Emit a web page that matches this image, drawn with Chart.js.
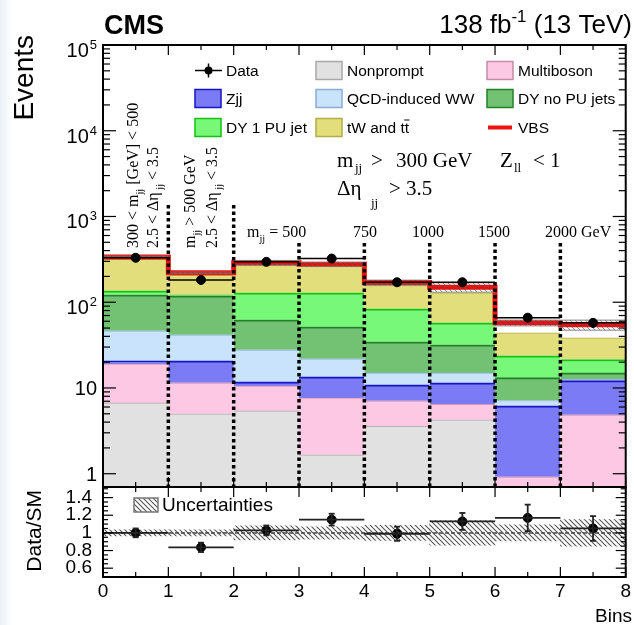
<!DOCTYPE html>
<html>
<head>
<meta charset="utf-8">
<script src="https://cdn.jsdelivr.net/npm/chart.js@4.4.1/dist/chart.umd.min.js"></script>
<style>
  html, body { margin: 0; padding: 0; }
  body { width: 634px; height: 625px; overflow: hidden; background: linear-gradient(90deg, #e9eff6 0px, #ffffff 12px); }
  #wrap { position: relative; width: 634px; height: 625px; }
  canvas { position: absolute; left: 0; top: 0; }
</style>
</head>
<body>
<div id="wrap"><canvas id="c" width="634" height="625"></canvas></div>
<script>
// bins
const binCenters = [0.5, 1.5, 2.5, 3.5, 4.5, 5.5, 6.5, 7.5];
const binEdges = [0, 1, 2, 3, 4, 5, 6, 7, 8];

// expected events per bin, per process (stacked bottom -> top)
const nonprompt  = [6.7, 5.0, 5.4, 1.66, 3.6, 4.26, 0.6, 0.5];
const multiboson = [12.4, 6.5, 5.2, 6.0, 3.5, 2.24, 0.32, 4.37];
const zjj        = [1.6, 9.2, 1.2, 5.8, 3.8, 5.0, 5.28, 7.33];
const qcdWW      = [25.7, 21, 16.1, 8.4, 4.1, 3.5, 0.95, 0.4];
const dyNoPU     = [75.6, 77.3, 34.5, 29.8, 19.5, 16.9, 6.05, 2.4];
const dy1PU      = [14, 3, 66.6, 77.3, 49.3, 25.6, 10.5, 6.5];
const tWtt       = [180, 86, 144, 133, 76, 71.5, 20.3, 17];
const vbs        = [22, 12, 15, 15, 10, 21, 13.5, 16];

// observed
const dataEvents = [330, 182, 296, 323, 171, 171, 66, 57.5];
const dataErr    = [18, 13, 17, 18, 13, 13, 8, 7.5];

// ratio panel
const ratioVals = [1.0, 0.836, 1.028, 1.15, 0.99, 1.13, 1.17, 1.05];
const ratioErr  = [0.05, 0.053, 0.056, 0.067, 0.08, 0.096, 0.15, 0.14];
const systUnc   = [0.035, 0.035, 0.08, 0.07, 0.085, 0.14, 0.09, 0.15];

// ticks
const eventTicks = [1, 10, 100, 1000, 10000, 100000];
const eventTickLabels = [["1", ""], ["10", ""], ["10", "2"], ["10", "3"], ["10", "4"], ["10", "5"]];
const ratioTicks = [0.6, 0.8, 1, 1.2, 1.4];
const binTicks = [0, 1, 2, 3, 4, 5, 6, 7, 8];
const dividerEdges = [1, 2, 3, 4, 5, 6, 7];

// layout / style
const SANS = "'Liberation Sans', Arial, sans-serif";
const SERIF = "'Liberation Serif', 'Times New Roman', serif";
const yMainMin = 0.745, yMainMax = 1e5;
const yRatioMin = 0.5, yRatioMax = 1.52;
const histBase = 0.1;
const dividerTopPx = [205, 205, 243, 243, 243, 243, 243];

Chart.defaults.font.family = SANS;
Chart.defaults.color = '#000';

function hatch(color, gap, lw) {
  const c = document.createElement('canvas');
  c.width = gap; c.height = gap;
  const g = c.getContext('2d');
  g.strokeStyle = color; g.lineWidth = lw;
  g.beginPath();
  g.moveTo(-1, -1); g.lineTo(gap + 1, gap + 1);
  g.moveTo(-1, gap - 1); g.lineTo(1, gap + 1);
  g.moveTo(gap - 1, -1); g.lineTo(gap + 1, 1);
  g.stroke();
  return g.createPattern(c, 'repeat');
}
const hatchRatio = hatch('#555', 5, 1.1);
const hatchMain = hatch('rgba(70,70,70,0.55)', 5, 1);

const processes = [
  { label: 'Nonprompt', values: nonprompt, fill: '#e1e1e1', line: '#a8a8a8', lw: 1 },
  { label: 'Multiboson', values: multiboson, fill: '#fdc8e3', line: '#c48aa8', lw: 1 },
  { label: 'Zjj', values: zjj, fill: '#7b7bf6', line: '#1515c8', lw: 2 },
  { label: 'QCD-induced WW', values: qcdWW, fill: '#c8e3fb', line: '#88acd6', lw: 1 },
  { label: 'DY no PU jets', values: dyNoPU, fill: '#73c273', line: '#23802a', lw: 2 },
  { label: 'DY 1 PU jet', values: dy1PU, fill: '#78f878', line: '#12c212', lw: 2 },
  { label: 'tW and tt', values: tWtt, fill: '#e3de7c', line: '#b3ad45', lw: 1 },
  { label: 'VBS', values: vbs, fill: '#ffffff', line: '#ee1111', lw: 0 }
];

const cum = binCenters.map(() => 0);
const stackSets = processes.map(p => ({
  type: 'bar',
  label: p.label,
  yAxisID: 'y',
  grouped: false,
  categoryPercentage: 1,
  barPercentage: 1,
  backgroundColor: p.fill,
  borderColor: p.line,
  borderWidth: { top: p.lw, bottom: 0, left: 0, right: 0 },
  borderSkipped: false,
  order: 20,
  data: binCenters.map((x, i) => {
    const lo = cum[i] || histBase;
    cum[i] += p.values[i];
    return { x, y: [lo, cum[i]] };
  })
}));
const totals = cum.slice();

const vbsLine = {
  type: 'line', yAxisID: 'y', order: 15,
  data: binEdges.map((x, i) => ({ x, y: totals[Math.min(i, totals.length - 1)] })),
  stepped: true, borderColor: '#ee1111', borderWidth: 5, pointRadius: 0, fill: false
};
const mainUnc = {
  type: 'bar', yAxisID: 'y', order: 12, grouped: false,
  categoryPercentage: 1, barPercentage: 1,
  backgroundColor: hatchMain, borderColor: 'rgba(120,120,120,0.6)',
  borderWidth: { top: 1, bottom: 1, left: 0, right: 0 }, borderSkipped: false,
  data: binCenters.map((x, i) => ({ x, y: [totals[i] * (1 - systUnc[i]), totals[i] * (1 + systUnc[i])] }))
};
const dataPoints = {
  type: 'scatter', yAxisID: 'y', order: 0,
  data: binCenters.map((x, i) => ({ x, y: dataEvents[i] })),
  pointRadius: 4.5, backgroundColor: '#000', borderColor: '#000'
};
const ratioBand = {
  type: 'bar', yAxisID: 'y2', order: 12, grouped: false,
  categoryPercentage: 1, barPercentage: 1,
  backgroundColor: hatchRatio, borderWidth: 0,
  data: binCenters.map((x, i) => ({ x, y: [1 - systUnc[i], 1 + systUnc[i]] }))
};
const ratioPoints = {
  type: 'scatter', yAxisID: 'y2', order: 0,
  data: binCenters.map((x, i) => ({ x, y: ratioVals[i] })),
  pointRadius: 4.5, backgroundColor: '#000', borderColor: '#000'
};

function rich(ctx, x, y, parts, size, family, weight) {
  let cx = x;
  for (const [t, m] of parts) {
    const fs = m ? size * 0.65 : size;
    ctx.font = (weight || '') + ' ' + fs + 'px ' + family;
    const dy = m === 1 ? size * 0.3 : m === 2 ? -size * 0.42 : 0;
    ctx.fillText(t, cx, y + dy);
    cx += ctx.measureText(t).width;
  }
  return cx - x;
}
function richWidth(ctx, parts, size, family, weight) {
  let w = 0;
  for (const [t, m] of parts) {
    ctx.font = (weight || '') + ' ' + (m ? size * 0.65 : size) + 'px ' + family;
    w += ctx.measureText(t).width;
  }
  return w;
}
function line(ctx, x1, y1, x2, y2) {
  ctx.beginPath(); ctx.moveTo(x1, y1); ctx.lineTo(x2, y2); ctx.stroke();
}

const decor = {
  id: 'decor',
  afterDatasetsDraw(chart) {
    const { ctx, scales: { x, y, y2 } } = chart;
    ctx.save();
    // bin separators
    ctx.strokeStyle = '#000'; ctx.lineWidth = 3.5; ctx.setLineDash([3.5, 3]);
    dividerEdges.forEach((e, i) => {
      const px = x.getPixelForValue(e);
      line(ctx, px, dividerTopPx[i], px, y.bottom);
    });
    ctx.setLineDash([]);
    // data error bars, main panel
    ctx.strokeStyle = '#000'; ctx.lineWidth = 1.5;
    binCenters.forEach((c, i) => {
      const px = x.getPixelForValue(c), py = y.getPixelForValue(dataEvents[i]);
      line(ctx, x.getPixelForValue(binEdges[i]), py, x.getPixelForValue(binEdges[i + 1]), py);
      line(ctx, px, y.getPixelForValue(dataEvents[i] - dataErr[i]), px, y.getPixelForValue(dataEvents[i] + dataErr[i]));
    });
    // ratio reference line
    const p1 = y2.getPixelForValue(1);
    ctx.strokeStyle = '#444'; ctx.lineWidth = 1.5; ctx.setLineDash([4, 2]);
    line(ctx, x.left, p1, x.right, p1);
    ctx.setLineDash([]);
    // ratio error bars
    ctx.strokeStyle = '#222'; ctx.lineWidth = 1.8;
    binCenters.forEach((c, i) => {
      const px = x.getPixelForValue(c), py = y2.getPixelForValue(ratioVals[i]);
      const lo = y2.getPixelForValue(ratioVals[i] - ratioErr[i]);
      const hi = y2.getPixelForValue(ratioVals[i] + ratioErr[i]);
      line(ctx, x.getPixelForValue(binEdges[i]), py, x.getPixelForValue(binEdges[i + 1]), py);
      line(ctx, px, lo, px, hi);
      line(ctx, px - 3, lo, px + 3, lo);
      line(ctx, px - 3, hi, px + 3, hi);
    });
    ctx.restore();
  },
  afterDraw(chart) {
    const { ctx, scales: { x, y, y2 } } = chart;
    ctx.save();
    ctx.fillStyle = '#000'; ctx.strokeStyle = '#000';

    // frames
    ctx.lineWidth = 2;
    ctx.strokeRect(x.left, y.top, x.right - x.left, y.bottom - y.top);
    ctx.strokeRect(x.left, y2.top, x.right - x.left, y2.bottom - y2.top);

    // x ticks (inward) on all horizontal frame edges
    ctx.lineWidth = 1.2;
    [[y.top, 1], [y.bottom, -1], [y2.top, 1], [y2.bottom, -1]].forEach(([py, dir]) => {
      for (let k = 0; k <= 16; k++) {
        const px = x.getPixelForValue(k / 2);
        const len = k % 2 === 0 ? 10 : 5;
        line(ctx, px, py, px, py + dir * len);
      }
    });
    // main y ticks
    for (let d = 0; d <= 5; d++) {
      for (let m = 1; m <= 9; m++) {
        const v = m * Math.pow(10, d);
        if (v < yMainMin || v > yMainMax) continue;
        const py = y.getPixelForValue(v), len = m === 1 ? 13 : 7;
        line(ctx, x.left, py, x.left + len, py);
        line(ctx, x.right, py, x.right - len, py);
      }
    }
    // ratio y ticks
    for (let k = 10; k <= 30; k++) {
      const py = y2.getPixelForValue(k * 0.05), len = k % 4 === 0 ? 10 : 5;
      line(ctx, x.left, py, x.left + len, py);
      line(ctx, x.right, py, x.right - len, py);
    }

    // main y tick labels (10^n)
    ctx.textBaseline = 'alphabetic'; ctx.textAlign = 'left';
    eventTicks.forEach((v, i) => {
      const py = y.getPixelForValue(v);
      const [base, sup] = eventTickLabels[i];
      ctx.font = '20px ' + SANS;
      const bw = ctx.measureText(base).width;
      if (sup) {
        ctx.font = '13px ' + SANS;
        const sw = ctx.measureText(sup).width;
        ctx.fillText(sup, 97 - sw, py + 4);
        ctx.font = '20px ' + SANS;
        ctx.fillText(base, 97 - sw - 1 - bw, py + 12);
      } else {
        ctx.fillText(base, 97 - bw, py + 7.5);
      }
    });

    // titles
    ctx.font = 'bold 27px ' + SANS;
    ctx.fillText('CMS', 104, 34);
    const lumi = [['138 fb', 0], ['-1', 2], [' (13 TeV)', 0]];
    const lw = richWidth(ctx, lumi, 26, SANS);
    rich(ctx, 632 - lw, 33, lumi, 26, SANS);

    ctx.save();
    ctx.translate(33, 35); ctx.rotate(-Math.PI / 2);
    ctx.textAlign = 'right'; ctx.font = '28px ' + SANS;
    ctx.fillText('Events', 0, 0);
    ctx.restore();
    ctx.save();
    ctx.translate(41, 490); ctx.rotate(-Math.PI / 2);
    ctx.textAlign = 'right'; ctx.font = '21px ' + SANS;
    ctx.fillText('Data/SM', 0, 0);
    ctx.restore();

    ctx.textAlign = 'right'; ctx.font = '19px ' + SANS;
    ctx.fillText('Bins', 632, 622);
    ctx.textAlign = 'left';

    // legend
    const cols = [195, 316, 487], rows = [70.5, 98.5, 127.5];
    const order = ['Data', 'Nonprompt', 'Multiboson', 'Zjj', 'QCD-induced WW', 'DY no PU jets', 'DY 1 PU jet', 'tW and tt', 'VBS'];
    order.forEach((name, k) => {
      const bx = cols[k % 3], cy = rows[Math.floor(k / 3)];
      if (name === 'Data') {
        ctx.lineWidth = 1.5;
        line(ctx, bx, cy, bx + 27, cy);
        line(ctx, bx + 13.5, cy - 7, bx + 13.5, cy + 7);
        ctx.beginPath(); ctx.arc(bx + 13.5, cy, 4, 0, Math.PI * 2); ctx.fill();
      } else if (name === 'VBS') {
        ctx.strokeStyle = '#ee1111'; ctx.lineWidth = 4;
        line(ctx, bx + 1, cy, bx + 25, cy);
        ctx.strokeStyle = '#000';
      } else {
        const p = processes.find(q => q.label === name);
        ctx.fillStyle = p.fill; ctx.fillRect(bx, cy - 9, 26, 18);
        ctx.strokeStyle = p.line; ctx.lineWidth = 1.5; ctx.strokeRect(bx, cy - 9, 26, 18);
        ctx.fillStyle = '#000'; ctx.strokeStyle = '#000';
      }
      ctx.font = '15.5px ' + SANS;
      const tx = bx + 31, ty = cy + 5.5;
      ctx.fillText(name, tx, ty);
      if (name === 'tW and tt') {
        const w = ctx.measureText(name).width, tw = ctx.measureText('t').width;
        ctx.lineWidth = 1;
        line(ctx, tx + w - tw - 0.5, ty - 13, tx + w + 0.5, ty - 13);
      }
    });

    // uncertainty legend (ratio)
    ctx.fillStyle = hatchRatio; ctx.fillRect(134, 498, 24, 14);
    ctx.strokeStyle = '#777'; ctx.lineWidth = 1.5; ctx.strokeRect(134, 498, 24, 14);
    ctx.fillStyle = '#000'; ctx.strokeStyle = '#000';
    ctx.font = '19px ' + SANS;
    ctx.fillText('Uncertainties', 162, 511);

    // selection text
    ctx.font = '21px ' + SERIF;
    ctx.fillText('m', 337, 167);
    ctx.fillText('>', 371, 167);
    ctx.fillText('300 GeV', 396, 167);
    ctx.fillText('Z', 500, 167);
    ctx.fillText('<', 533, 167);
    ctx.fillText('1', 550, 167);
    ctx.fillText('\u0394\u03b7', 337, 195);
    ctx.fillText('> 3.5', 389, 195);
    ctx.font = '13px ' + SERIF;
    ctx.fillText('jj', 355, 172);
    ctx.fillText('ll', 514, 172);
    ctx.fillText('jj', 371, 207);

    // bin annotations
    const deta = [['2.5 < \u0394\u03b7', 0], [' jj', 1], [' < 3.5', 0]];
    const rot = [
      [138, 248, [['300 < m', 0], ['jj', 1], [' [GeV] < 500', 0]]],
      [158, 248, deta],
      [195, 248, [['m', 0], ['jj', 1], [' > 500 GeV', 0]]],
      [217, 248, deta]
    ];
    rot.forEach(([rx, ry, parts]) => {
      ctx.save();
      ctx.translate(rx, ry); ctx.rotate(-Math.PI / 2);
      rich(ctx, 0, 0, parts, 16, SERIF);
      ctx.restore();
    });
    rich(ctx, 247, 237, [['m', 0], ['jj', 1], [' = 500', 0]], 16, SERIF);
    ctx.font = '16px ' + SERIF; ctx.textAlign = 'center';
    ctx.fillText('750', 365, 237);
    ctx.fillText('1000', 428, 237);
    ctx.fillText('1500', 494, 237);
    ctx.textAlign = 'left';
    ctx.fillText('2000 GeV', 545, 237);

    ctx.restore();
  }
};

new Chart(document.getElementById('c'), {
  type: 'bar',
  data: { datasets: [...stackSets, mainUnc, vbsLine, dataPoints, ratioBand, ratioPoints] },
  options: {
    responsive: false,
    animation: false,
    devicePixelRatio: 1,
    layout: { padding: { top: 45, right: 2, left: 0, bottom: 0 } },
    plugins: { legend: { display: false }, tooltip: { enabled: false } },
    scales: {
      x: {
        type: 'linear', min: 0, max: 8, offset: false,
        grid: { display: false, drawTicks: false }, border: { display: false },
        afterBuildTicks(s) { s.ticks = binTicks.map(v => ({ value: v })); },
        ticks: { font: { size: 19 }, color: '#000', padding: 3, maxRotation: 0, autoSkip: false, callback: v => String(v) },
        afterFit(s) { s.height = 48; }
      },
      y2: {
        type: 'linear', position: 'left', stack: 'v', stackWeight: 90,
        min: yRatioMin, max: yRatioMax,
        grid: { display: false, drawTicks: false }, border: { display: false },
        afterBuildTicks(s) { s.ticks = ratioTicks.map(v => ({ value: v })); },
        ticks: { font: { size: 19 }, color: '#000', padding: 11, autoSkip: false, callback: v => String(v) },
        afterFit(s) { s.width = 103; }
      },
      y: {
        type: 'logarithmic', position: 'left', stack: 'v', stackWeight: 442,
        min: yMainMin, max: yMainMax,
        grid: { display: false, drawTicks: false }, border: { display: false },
        ticks: { display: false },
        afterFit(s) { s.width = 103; }
      }
    }
  },
  plugins: [decor]
});
</script>
</body>
</html>
